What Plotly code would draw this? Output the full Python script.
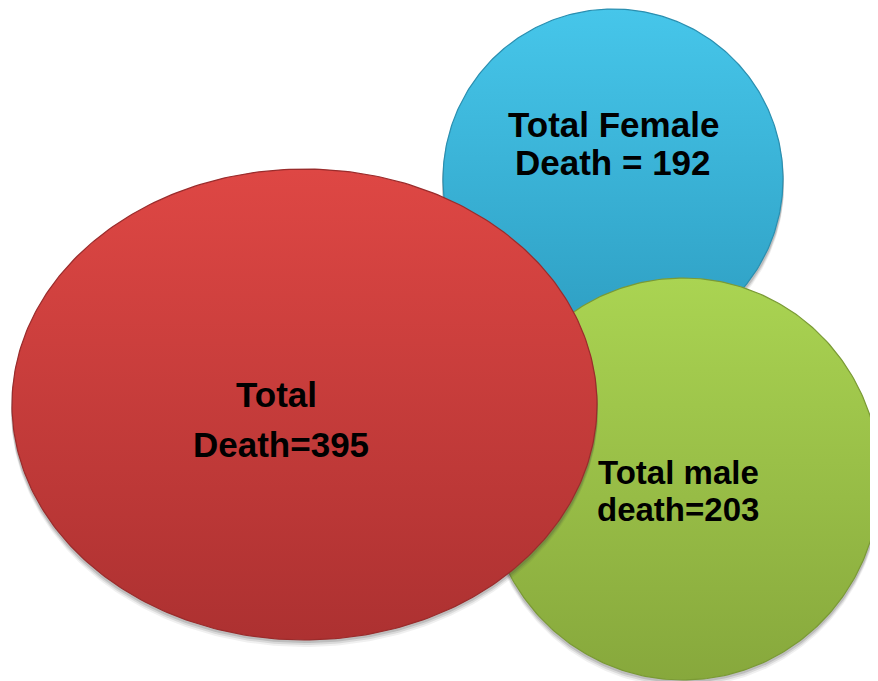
import numpy as np
import plotly.graph_objects as go

# ---- data ----
categories = ["Total", "Total Female", "Total male"]
value_prefix = ["Death=", "Death = ", "death="]
values = [395, 192, 203]

# ---- layout / style (pixel space, y downward) ----
W, H = 878, 681
OFF = 8  # browser body margin compensation
centers = {"Total": (304.5, 404.5), "Total Female": (613, 179), "Total male": (683, 479)}
radii = {"Total": (292.5, 235.5), "Total Female": (170, 170), "Total male": (197, 201)}
colors = {
    "Total": ("#de4744", "#ad3131"),
    "Total Female": ("#46c6ea", "#2d9dc1"),
    "Total male": ("#aad452", "#87a83c"),
}
edge = {"Total": "#9a2c2c", "Total Female": "#2a8fb0", "Total male": "#7a9a35"}
label_pos = {
    "Total": ((276, 394), (281, 444)),
    "Total Female": ((613, 124), (613, 162)),
    "Total male": ((678, 472), (678, 509)),
}
font_size = {"Total": 35, "Total Female": 35, "Total male": 33}
draw_order = ["Total Female", "Total male", "Total"]

t = np.linspace(0, 2 * np.pi, 361)

fig = go.Figure()
for name in draw_order:
    cx, cy = centers[name]
    rx, ry = radii[name]
    # soft shadow
    for dy, op in [(7, 0.08), (5, 0.12), (3, 0.18)]:
        fig.add_trace(go.Scatter(
            x=cx + (rx + 1) * np.cos(t), y=cy + dy + ry * np.sin(t),
            mode="lines", fill="toself", line=dict(width=0),
            fillcolor=f"rgba(60,60,60,{op})", hoverinfo="skip", showlegend=False))
    top, bot = colors[name]
    fig.add_trace(go.Scatter(
        x=cx + rx * np.cos(t), y=cy + ry * np.sin(t),
        mode="lines", fill="toself",
        line=dict(width=1.2, color=edge[name]),
        fillgradient=dict(type="vertical", colorscale=[[0, bot], [1, top]]),
        hoverinfo="skip", showlegend=False))

annotations = []
for name, pre, v in zip(categories, value_prefix, values):
    (x1, y1), (x2, y2) = label_pos[name]
    for (x, y), txt in (((x1, y1), name), ((x2, y2), f"{pre}{v}")):
        annotations.append(dict(
            x=x, y=y, xref="x", yref="y", text=f"<b>{txt}</b>", showarrow=False,
            xanchor="center", yanchor="middle",
            font=dict(family="Liberation Sans, Arial, sans-serif",
                      size=font_size[name], color="#000000")))

fig.update_layout(
    width=W, height=H, margin=dict(l=0, r=0, t=0, b=0),
    paper_bgcolor="white", plot_bgcolor="white",
    xaxis=dict(range=[OFF, W + OFF], visible=False, fixedrange=True),
    yaxis=dict(range=[H + OFF, OFF], visible=False, fixedrange=True),
    annotations=annotations, showlegend=False,
)
fig.write_html("out.html")
